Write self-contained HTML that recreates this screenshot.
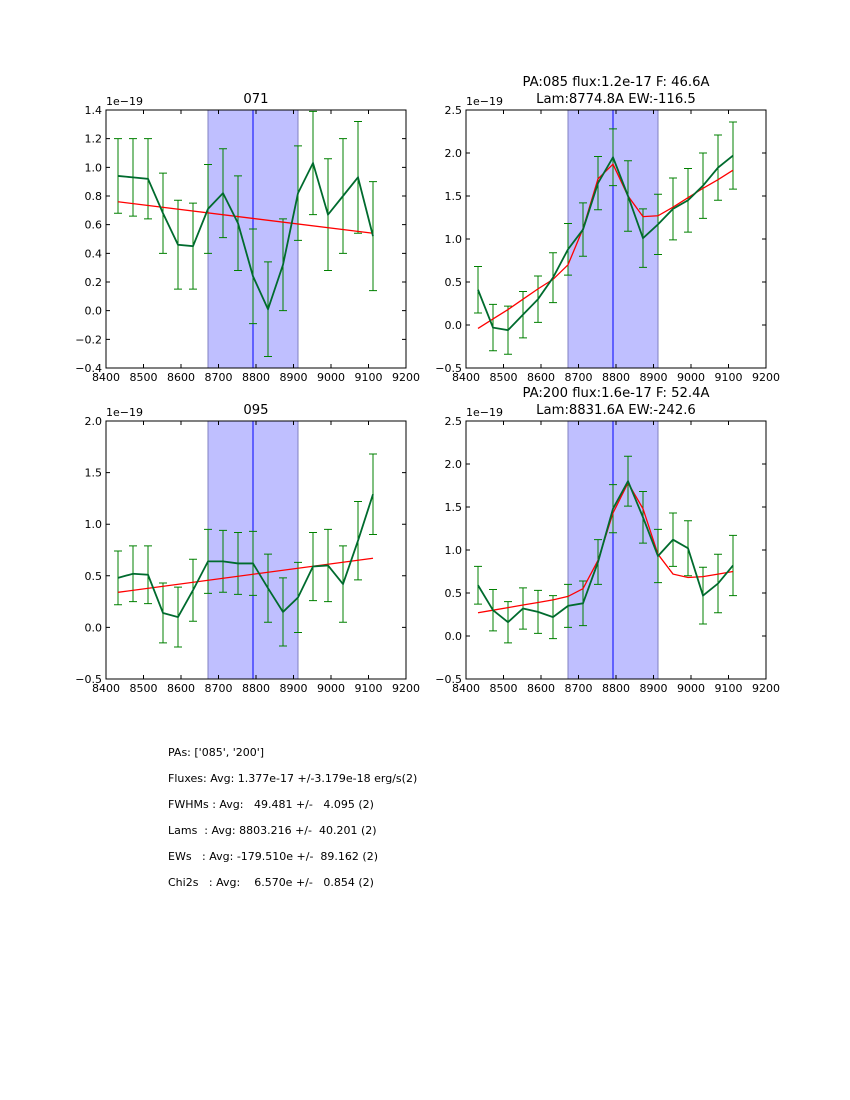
<!DOCTYPE html>
<html><head><meta charset="utf-8"><style>
body{margin:0;background:#fff;width:850px;height:1100px;overflow:hidden;font-family:"DejaVu Sans",sans-serif}
#txt{position:absolute;left:168px;top:740px;font-size:11px;white-space:pre;line-height:26px;color:#000}
</style></head><body>
<svg id="fig" width="850" height="1100" style="position:absolute;left:0;top:0" font-family="DejaVu Sans, sans-serif"></svg>
<div id="txt">PAs: ['085', '200']
Fluxes: Avg: 1.377e-17 +/-3.179e-18 erg/s(2)
FWHMs : Avg:   49.481 +/-   4.095 (2)
Lams  : Avg: 8803.216 +/-  40.201 (2)
EWs   : Avg: -179.510e +/-  89.162 (2)
Chi2s   : Avg:    6.570e +/-   0.854 (2)</div>
<script>
const wl=[8432,8472,8512,8552,8592,8632,8672,8712,8752,8792,8832,8872,8912,8952,8992,9032,9072,9112];
const v071=[0.94,0.93,0.92,0.68,0.46,0.45,0.71,0.82,0.61,0.24,0.01,0.32,0.82,1.03,0.67,0.80,0.93,0.52];
const e071=[0.26,0.27,0.28,0.28,0.31,0.30,0.31,0.31,0.33,0.33,0.33,0.32,0.33,0.36,0.39,0.40,0.39,0.38];
const f071=[0.76,0.54];
const v085=[0.41,-0.03,-0.06,0.12,0.30,0.55,0.88,1.11,1.65,1.95,1.50,1.01,1.17,1.35,1.45,1.62,1.83,1.97];
const e085=[0.27,0.27,0.28,0.27,0.27,0.29,0.30,0.31,0.31,0.33,0.41,0.34,0.35,0.36,0.37,0.38,0.38,0.39];
const f085=[-0.04,0.07,0.18,0.30,0.42,0.53,0.70,1.12,1.70,1.87,1.50,1.26,1.27,1.37,1.48,1.59,1.69,1.80];
const v095=[0.48,0.52,0.51,0.14,0.10,0.36,0.64,0.64,0.62,0.62,0.38,0.15,0.29,0.59,0.60,0.42,0.84,1.29];
const e095=[0.26,0.27,0.28,0.29,0.29,0.30,0.31,0.30,0.30,0.31,0.33,0.33,0.34,0.33,0.35,0.37,0.38,0.39];
const f095=[0.34,0.67];
const v200=[0.59,0.30,0.16,0.32,0.28,0.22,0.35,0.38,0.86,1.48,1.80,1.38,0.93,1.12,1.02,0.47,0.61,0.82];
const e200=[0.22,0.24,0.24,0.24,0.25,0.25,0.25,0.26,0.26,0.28,0.29,0.30,0.31,0.31,0.32,0.33,0.34,0.35];
const f200=[0.27,0.30,0.33,0.36,0.39,0.42,0.46,0.55,0.88,1.43,1.78,1.48,0.95,0.72,0.68,0.69,0.72,0.75];
const xticks=[8400,8500,8600,8700,8800,8900,9000,9100,9200];
const band=[8672,8912], cline=8792;
const NS='http://www.w3.org/2000/svg', svg=document.getElementById('fig');
function mk(t,a,p){const e=document.createElementNS(NS,t);for(const k in a)e.setAttribute(k,a[k]);(p||svg).appendChild(e);return e;}
function panel(name,L,T,ymin,ymax,ystep,vals,errs,fit,titles){
 const W=300,H=258,g=mk('g',{});
 
 
 const X=v=>L+(v-8400)/800*W, Y=v=>T+H-(v-ymin)/(ymax-ymin)*H;
 const b=mk('rect',{x:X(band[0]),y:T,width:X(band[1])-X(band[0]),height:H,fill:'#bfbfff',stroke:'#8080c0','stroke-width':1},g);
 
 
 const cl=mk('line',{x1:X(cline),x2:X(cline),y1:T,y2:T+H,stroke:'#0000ff','stroke-width':1},g);
 
 
 vals.forEach((v,i)=>{const x=X(wl[i]),y1=Y(v-errs[i]),y2=Y(v+errs[i]);
  const eb=mk('path',{d:`M${x},${y1}V${y2}M${x-4},${y1}H${x+4}M${x-4},${y2}H${x+4}`,stroke:'#008000','stroke-width':1,fill:'none'},g);
  
  });
 let fd;
 if(fit.length==2) fd=`M${X(wl[0])},${Y(fit[0])}L${X(wl[wl.length-1])},${Y(fit[1])}`;
 else fd='M'+fit.map((v,i)=>X(wl[i])+','+Y(v)).join('L');
 const fl=mk('path',{d:fd,stroke:'#ff0000','stroke-width':1.3,fill:'none'},g);
 
 
 const dl=mk('path',{d:'M'+vals.map((v,i)=>X(wl[i])+','+Y(v)).join('L'),stroke:'#006b2e','stroke-width':1.8,fill:'none'},g);
 
 
 const fr=mk('rect',{x:L,y:T,width:W,height:H,fill:'none',stroke:'#000','stroke-width':1},g);
 
 
 xticks.forEach(t=>{const x=X(t);mk('path',{d:`M${x},${T+H}v-4M${x},${T}v4`,stroke:'#000'},g);
  const tx=mk('text',{x:x,y:T+H+13,'font-size':11,'text-anchor':'middle'},g);tx.textContent=t;
  
  });
 const n=Math.round((ymax-ymin)/ystep);
 for(let k=0;k<=n;k++){const v=ymin+k*ystep,y=Y(v);mk('path',{d:`M${L},${y}h4M${L+W},${y}h-4`,stroke:'#000'},g);
  const tx=mk('text',{x:L-4,y:y+4,'font-size':11,'text-anchor':'end'},g);tx.textContent=(v<0?'\u2212':'')+Math.abs(v).toFixed(1);
  
  }
 const ex=mk('text',{x:L,y:T-5,'font-size':11},g);ex.textContent='1e\u221219';
 
 
 titles.forEach((s,i)=>{const tt=mk('text',{x:L+W/2,y:T-7-(titles.length-1-i)*17,'font-size':13.2,'text-anchor':'middle'},g);tt.textContent=s;
  
  });
}
panel('panel-071',106,110,-0.4,1.4,0.2,v071,e071,f071,['071']);
panel('panel-085',466,110,-0.5,2.5,0.5,v085,e085,f085,['PA:085 flux:1.2e-17 F: 46.6A','Lam:8774.8A EW:-116.5']);
panel('panel-095',106,421,-0.5,2.0,0.5,v095,e095,f095,['095']);
panel('panel-200',466,421,-0.5,2.5,0.5,v200,e200,f200,['PA:200 flux:1.6e-17 F: 52.4A','Lam:8831.6A EW:-242.6']);
</script>
</body></html>
